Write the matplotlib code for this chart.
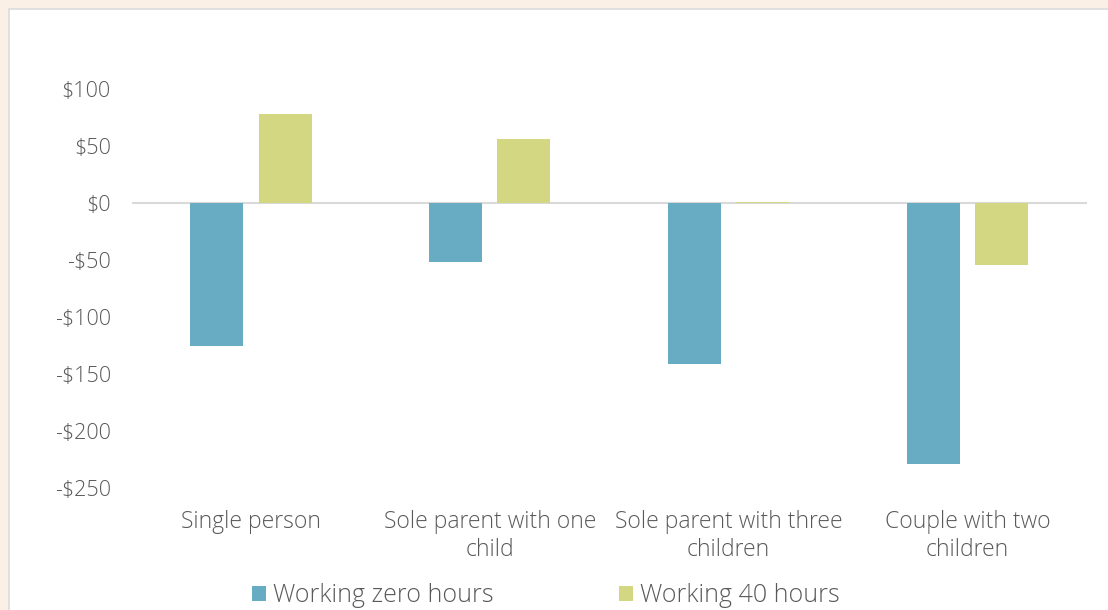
import matplotlib
matplotlib.use("Agg")
import matplotlib.pyplot as plt
from matplotlib.patches import Rectangle
import numpy as np

categories = ["Single person", "Sole parent with one\nchild",
              "Sole parent with three\nchildren", "Couple with two\nchildren"]
zero_hours = [-125, -52, -141, -229]
forty_hours = [78, 56, 1, -54]
series_names = ["Working zero hours", "Working 40 hours"]
yticks = [100, 50, 0, -50, -100, -150, -200, -250]
ytick_labels = ["$100", "$50", "$0", "-$50", "-$100", "-$150", "-$200", "-$250"]

blue = "#68ACC4"
green = "#D3D781"
text_grey = "#595959"

plt.rcParams["font.family"] = ["Open Sans", "DejaVu Sans"]
plt.rcParams["font.weight"] = "light"

fig = plt.figure(figsize=(11.08, 6.10), dpi=100)
fig.patch.set_facecolor("#FAF0E6")

# white card with a thin grey edge
card = Rectangle((9 / 1108, -0.05), 1.1, (610 - 9) / 610 + 0.05,
                 transform=fig.transFigure, facecolor="white",
                 edgecolor="#DCDCDC", linewidth=1.2, zorder=-5)
fig.patches.append(card)

left, right = 131.5 / 1108, 1087 / 1108
top, bottom = 1 - 89 / 610, 1 - 488 / 610
ax = fig.add_axes([left, bottom, right - left, top - bottom], zorder=2)
ax.set_facecolor("none")

x = np.arange(len(categories))
w = 0.222
off = 0.143
ax.bar(x - off, zero_hours, width=w, color=blue, label=series_names[0], zorder=2)
ax.bar(x + off, forty_hours, width=w, color=green, label=series_names[1], zorder=2)

ax.axhline(0, color="#D9D9D9", linewidth=1.5, zorder=1)
ax.set_xlim(-0.5, len(categories) - 0.5)
ax.set_ylim(-250, 100)
ax.set_yticks(yticks)
ax.set_yticklabels(ytick_labels)
ax.set_xticks(x)
ax.set_xticklabels(categories, linespacing=1.27)

for s in ax.spines.values():
    s.set_visible(False)
ax.tick_params(axis="both", length=0, colors=text_grey)
ax.tick_params(axis="y", pad=15, labelsize=15.5)
ax.tick_params(axis="x", pad=15.5, labelsize=16.5)

leg = ax.legend(loc="center", bbox_to_anchor=(0.434, -0.2695), ncol=2,
                frameon=False, fontsize=18, handlelength=0.55, handleheight=0.55,
                handletextpad=0.3, columnspacing=5.0, labelcolor=text_grey)

fig.savefig("out.png", dpi=100, facecolor=fig.get_facecolor())
